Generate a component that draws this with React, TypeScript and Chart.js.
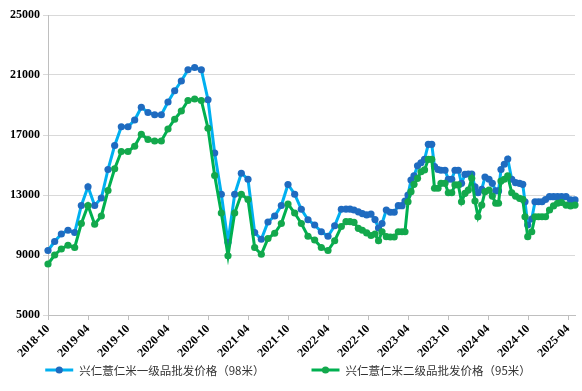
import React, { useEffect, useRef } from 'react';
import { Chart, registerables } from 'chart.js';

Chart.register(...registerables);

// months elapsed since 2018-10 (monthly until mid-2022, then roughly semi-monthly)
const monthIndex = [
  0, 1, 2, 3, 4, 5, 6, 7, 8, 9, 10, 11, 12, 13, 14, 15, 16, 17, 18, 19, 20, 21, 22, 23, 24,
  25, 26, 27, 28, 29, 30, 31, 32, 33, 34, 35, 36, 37, 38, 39, 40, 41, 42, 43, 44,
  44.7, 45.3, 45.9, 46.55, 47.15, 47.8, 48.45, 49.05, 49.58, 50.1,
  50.75, 51.35, 51.93, 52.55, 53.1, 53.55, 54, 54.45, 54.9, 55.43,
  55.95, 56.48, 57.05, 57.56, 57.98, 58.5, 58.95, 59.55, 60.05, 60.56,
  61.05, 61.55, 62.03, 62.55, 63.05, 63.56, 64.05, 64.5, 65.06, 65.55,
  66.15, 66.65, 67.16, 67.58, 67.95, 68.45, 68.96, 69.56, 70.13, 70.73,
  71.21, 71.55, 71.96, 72.56, 73.05, 73.58, 74.1, 74.63, 75.23, 75.83,
  76.43, 77.03, 77.7, 78.38, 79.05,
];

const grade1Price = [
  9300, 9900, 10400, 10650, 10500, 12300, 13550, 12300, 12800, 14700, 16300, 17550, 17550, 18000, 18850,
  18500, 18350, 18350, 19200, 19950, 20600, 21350, 21500, 21350, 19350, 15800, 13050, 9850, 13050, 14450,
  14050, 10500, 10050, 11200, 11600, 12300, 13700, 13050, 12050, 11350, 11000, 10550, 10250, 10950, 12050,
  12060, 12060, 12000, 11880, 11760, 11670, 11730, 11360, 10800, 11100,
  12000, 11850, 11850, 12290, 12290, 12600, 13000, 14000, 14270, 14950,
  15150, 15380, 16380, 16380, 14900, 14700, 14650, 14650, 14050, 14050,
  14650, 14650, 13780, 14380, 14400, 14400, 13550, 13150, 13380, 14200,
  14050, 13780, 13270, 13270, 14700, 15050, 15400, 14050, 13820, 13780,
  13710, 12550, 11000, 11400, 12550, 12550, 12550, 12700, 12890, 12890,
  12890, 12890, 12890, 12670, 12670,
];

const grade2Price = [
  8400, 9000, 9400, 9650, 9500, 11100, 12300, 11050, 11600, 13300, 14750, 15900, 15900, 16250, 17050,
  16700, 16600, 16600, 17400, 18050, 18600, 19300, 19400, 19300, 17450, 14300, 11800, 8950, 11800, 13050,
  12700, 9500, 9050, 10100, 10450, 11100, 12400, 11800, 11100, 10250, 10000, 9500, 9300, 9950, 10900,
  11220, 11220, 11180, 10780, 10650, 10470, 10300, 10400, 9950, 10550,
  10220, 10200, 10200, 10550, 10550, 10550, 12550, 13220, 13710, 14110,
  14550, 14670, 15380, 15380, 13450, 13450, 13780, 13780, 13150, 13150,
  13670, 13670, 12550, 13110, 13330, 14110, 12600, 11550, 12330, 13220,
  13330, 12930, 12450, 12450, 13930, 14050, 14270, 13150, 12930, 12780,
  12710, 11550, 10220, 10550, 11550, 11550, 11550, 11550, 12000, 12270,
  12450, 12500, 12330, 12270, 12330,
];

const tickMonths = [0, 6, 12, 18, 24, 30, 36, 42, 48, 54, 60, 66, 72, 78];
const tickLabels = [
  '2018-10', '2019-04', '2019-10', '2020-04', '2020-10', '2021-04', '2021-10',
  '2022-04', '2022-10', '2023-04', '2023-10', '2024-04', '2024-10', '2025-04',
];
const seriesNames = ['兴仁薏仁米一级品批发价格（98米）', '兴仁薏仁米二级品批发价格（95米）'];

const BLUE_LINE = '#00B0F0';
const BLUE_DOT = '#1F6BC0';
const GREEN_LINE = '#00B050';
const GREEN_DOT = '#13A84C';

const SERIF = '"Liberation Serif", "Times New Roman", serif';
const LEGEND_FONT = '11.5px "Noto Sans CJK SC", "Noto Sans", sans-serif';

// Draws a legend in which each item is a line segment with a dot, followed by its name
const lineLegend = {
  id: 'lineLegend',
  afterDraw(chart: any) {
    const { ctx } = chart;
    const sets = chart.data.datasets;
    const lineW = 28;
    const textGap = 6;
    const itemGap = 47;
    ctx.save();
    ctx.font = LEGEND_FONT;
    const widths = sets.map((d: any) => lineW + textGap + ctx.measureText(d.label).width);
    const total = widths.reduce((a: number, b: number) => a + b, 0) + itemGap * (sets.length - 1);
    let x = chart.width / 2 - total / 2 - 3;
    const y = chart.height - 21;
    sets.forEach((d: any, i: number) => {
      ctx.strokeStyle = d.borderColor;
      ctx.lineWidth = 3;
      ctx.beginPath();
      ctx.moveTo(x, y);
      ctx.lineTo(x + lineW, y);
      ctx.stroke();
      ctx.fillStyle = d.pointBackgroundColor;
      ctx.beginPath();
      ctx.arc(x + lineW / 2, y, 3.6, 0, Math.PI * 2);
      ctx.fill();
      ctx.fillStyle = '#333';
      ctx.textBaseline = 'middle';
      ctx.textAlign = 'left';
      ctx.fillText(d.label, x + lineW + textGap, y + 1);
      x += widths[i] + itemGap;
    });
    ctx.restore();
  },
};

export default function App() {
  const ref = useRef<HTMLCanvasElement>(null);

  useEffect(() => {
    if (!ref.current) return;
    const chart = new Chart(ref.current, {
      type: 'line',
      data: {
        datasets: [
          {
            label: seriesNames[0],
            data: monthIndex.map((m, i) => ({ x: m, y: grade1Price[i] })),
            borderColor: BLUE_LINE,
            backgroundColor: BLUE_DOT,
            pointBackgroundColor: BLUE_DOT,
            pointBorderWidth: 0,
            pointRadius: 3.6,
            borderWidth: 3,
            tension: 0,
            order: 1,
            clip: false,
          },
          {
            label: seriesNames[1],
            data: monthIndex.map((m, i) => ({ x: m, y: grade2Price[i] })),
            borderColor: GREEN_LINE,
            backgroundColor: GREEN_DOT,
            pointBackgroundColor: GREEN_DOT,
            pointBorderWidth: 0,
            pointRadius: 3.6,
            borderWidth: 3,
            tension: 0,
            order: 0,
            clip: false,
          },
        ],
      },
      options: {
        animation: false,
        responsive: true,
        maintainAspectRatio: false,
        layout: { padding: { top: 15, right: 7, bottom: 30, left: 0 } },
        scales: {
          x: {
            type: 'linear',
            min: 0,
            max: 79.05,
            afterBuildTicks: (s: any) => {
              s.ticks = tickMonths.map((v) => ({ value: v }));
            },
            afterFit: (s: any) => {
              s.height = 46;
            },
            ticks: {
              autoSkip: false,
              minRotation: 45,
              maxRotation: 45,
              padding: 2,
              color: '#000',
              font: { family: SERIF, size: 12, weight: 'bold' },
              callback: (v: any) => tickLabels[tickMonths.indexOf(Number(v))],
            },
            grid: { drawOnChartArea: false, color: '#bfbfbf', tickLength: 5 },
            border: { color: '#bfbfbf' },
          },
          y: {
            min: 5000,
            max: 25000,
            afterFit: (s: any) => {
              s.width = 48;
            },
            ticks: {
              stepSize: 4000,
              padding: 3,
              color: '#000',
              font: { family: SERIF, size: 12, weight: 'bold' },
              callback: (v: any) => String(v),
            },
            grid: { color: '#d9d9d9', tickLength: 5 },
            border: { color: '#bfbfbf' },
          },
        },
        plugins: {
          tooltip: { enabled: false },
          legend: { display: false },
        },
      },
      plugins: [lineLegend],
    } as any);
    return () => chart.destroy();
  }, []);

  return (
    <div style={{ position: 'fixed', left: 0, top: 0, width: 582, height: 391, background: '#fff' }}>
      <canvas ref={ref} />
    </div>
  );
}
